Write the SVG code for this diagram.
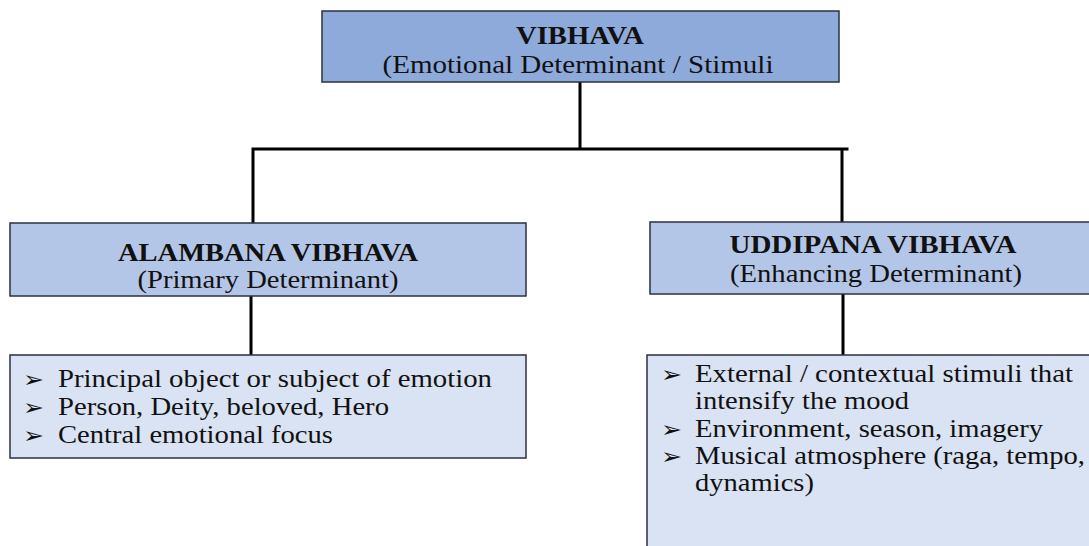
<svg xmlns="http://www.w3.org/2000/svg" width="1089" height="546" viewBox="0 0 1089 546">
  <style>
    .box { stroke: #2b3040; stroke-width: 1.5; }
    .top { fill: #8eaadb; }
    .mid { fill: #b4c6e7; }
    .low { fill: #dae3f3; }
    .wire { fill: none; stroke: #000; stroke-width: 3; stroke-linecap: square; }
    .t { font-family: "Liberation Serif", "Times New Roman", serif; font-size: 26px; fill: #111; }
    .b { font-weight: bold; }
    .c { text-anchor: middle; }
    .bul { font-family: "DejaVu Sans", sans-serif; font-size: 22px; fill: #111; }
  </style>

  <rect width="1089" height="546" fill="#fff"/>

  <!-- connectors -->
  <g id="connectors">
    <path class="wire" d="M580 82 V149 M253 149 H847 M253 149 V223 M842 149 V222"/>
    <path class="wire" d="M251 296 V355"/>
    <path class="wire" d="M843 294 V355"/>
  </g>

  <g id="vibhava">
    <rect class="box top" x="322" y="11" width="517" height="71"/>
    <text class="t b c" x="580" y="44" textLength="128" lengthAdjust="spacingAndGlyphs">VIBHAVA</text>
    <text class="t c" x="578" y="73" textLength="391" lengthAdjust="spacingAndGlyphs">(Emotional Determinant / Stimuli</text>
  </g>

  <g id="alambana">
    <rect class="box mid" x="10" y="223" width="516" height="73"/>
    <text class="t b c" x="268" y="261" textLength="300" lengthAdjust="spacingAndGlyphs">ALAMBANA VIBHAVA</text>
    <text class="t c" x="268" y="288" textLength="261" lengthAdjust="spacingAndGlyphs">(Primary Determinant)</text>
  </g>

  <g id="uddipana">
    <rect class="box mid" x="650" y="222" width="450" height="72"/>
    <text class="t b c" x="873" y="253" textLength="287" lengthAdjust="spacingAndGlyphs">UDDIPANA VIBHAVA</text>
    <text class="t c" x="876" y="282" textLength="292" lengthAdjust="spacingAndGlyphs">(Enhancing Determinant)</text>
  </g>

  <g id="alambana-details">
    <rect class="box low" x="10" y="355" width="516" height="103"/>
    <text class="bul" x="23" y="387" textLength="21" lengthAdjust="spacingAndGlyphs">➢</text>
    <text class="bul" x="23" y="415" textLength="21" lengthAdjust="spacingAndGlyphs">➢</text>
    <text class="bul" x="23" y="443" textLength="21" lengthAdjust="spacingAndGlyphs">➢</text>
    <text class="t" x="58" y="387" textLength="434" lengthAdjust="spacingAndGlyphs">Principal object or subject of emotion</text>
    <text class="t" x="58" y="415" textLength="331" lengthAdjust="spacingAndGlyphs">Person, Deity, beloved, Hero</text>
    <text class="t" x="58" y="443" textLength="275" lengthAdjust="spacingAndGlyphs">Central emotional focus</text>
  </g>

  <g id="uddipana-details">
    <rect class="box low" x="647" y="355" width="453" height="200"/>
    <text class="bul" x="661" y="382" textLength="21" lengthAdjust="spacingAndGlyphs">➢</text>
    <text class="bul" x="661" y="437" textLength="21" lengthAdjust="spacingAndGlyphs">➢</text>
    <text class="bul" x="661" y="464" textLength="21" lengthAdjust="spacingAndGlyphs">➢</text>
    <text class="t" x="695" y="382" textLength="378" lengthAdjust="spacingAndGlyphs">External / contextual stimuli that</text>
    <text class="t" x="695" y="409" textLength="214" lengthAdjust="spacingAndGlyphs">intensify the mood</text>
    <text class="t" x="695" y="437" textLength="348" lengthAdjust="spacingAndGlyphs">Environment, season, imagery</text>
    <text class="t" x="695" y="464" textLength="390" lengthAdjust="spacingAndGlyphs">Musical atmosphere (raga, tempo,</text>
    <text class="t" x="695" y="491" textLength="119" lengthAdjust="spacingAndGlyphs">dynamics)</text>
  </g>
</svg>
